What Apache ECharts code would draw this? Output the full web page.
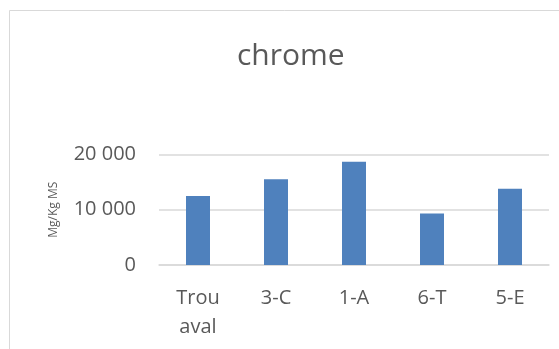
<!DOCTYPE html>
<html>
<head>
<meta charset="utf-8">
<script src="https://cdn.jsdelivr.net/npm/echarts@6/dist/echarts.min.js"></script>
<style>
  html, body { margin: 0; padding: 0; background: #ffffff; }
  #chart { width: 559px; height: 349px; }
</style>
</head>
<body>
<div id="chart"></div>
<script>
// Chromium content per sampling point (mg/kg dry matter)
const titleText = 'chrome';
const axisName = 'Mg/Kg MS';
const categories = ['Trou aval', '3-C', '1-A', '6-T', '5-E'];
const values = [12500, 15500, 18700, 9300, 13800];
const yTicks = [0, 10000, 20000];

const textColor = '#595959';
const gridColor = '#d9d9d9';
const fontFamily = '"Open Sans", "Liberation Sans", sans-serif';

// "20 000" style thousands grouping
function groupThousands(v) {
  return String(v).replace(/\B(?=(\d{3})+(?!\d))/g, ' ');
}

const chart = echarts.init(document.getElementById('chart'), null, { renderer: 'canvas' });

chart.setOption({
  animation: false,
  backgroundColor: '#ffffff',
  graphic: [{
    type: 'rect',
    shape: { x: 9.5, y: 10.5, width: 620, height: 400 },
    style: { fill: 'none', stroke: gridColor, lineWidth: 1 },
    silent: true
  }],
  title: {
    text: titleText,
    left: 237,
    top: 41,
    padding: 0,
    textStyle: { fontFamily: fontFamily, fontSize: 30, fontWeight: 'normal', color: textColor }
  },
  grid: { left: 159, right: 10, top: 154.5, bottom: 84, containLabel: false },
  xAxis: {
    type: 'category',
    data: categories,
    axisLine: { show: true, lineStyle: { color: gridColor, width: 1.5 } },
    axisTick: { show: false },
    axisLabel: {
      color: textColor,
      fontFamily: fontFamily,
      fontSize: 20,
      lineHeight: 29,
      margin: 19,
      interval: 0,
      formatter: (v) => v.replace(' ', '\n')
    }
  },
  yAxis: {
    type: 'value',
    min: yTicks[0],
    max: yTicks[yTicks.length - 1],
    interval: yTicks[1] - yTicks[0],
    name: axisName,
    nameLocation: 'middle',
    nameGap: 99,
    nameTextStyle: { color: textColor, fontFamily: fontFamily, fontSize: 12 },
    axisLine: { show: false },
    axisTick: { show: false },
    splitLine: { show: true, lineStyle: { color: gridColor, width: 1.5 } },
    axisLabel: {
      color: textColor,
      fontFamily: fontFamily,
      fontSize: 20,
      margin: 23,
      formatter: groupThousands
    }
  },
  series: [{
    type: 'bar',
    data: values,
    barWidth: 24,
    itemStyle: { color: '#4f81bd' }
  }]
});
</script>
</body>
</html>
